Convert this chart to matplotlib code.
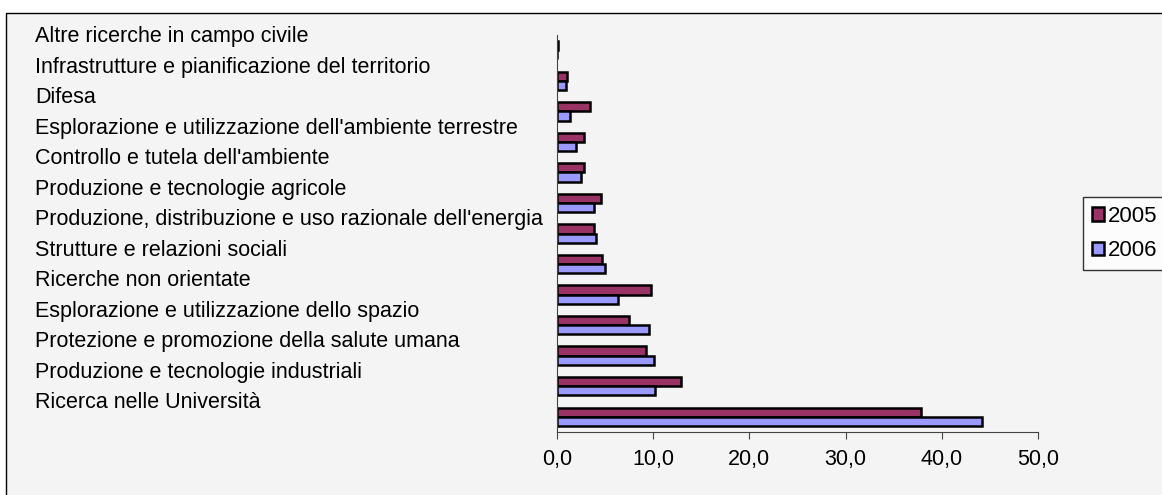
import matplotlib.pyplot as plt
import matplotlib.transforms as mtransforms
from matplotlib.patches import Rectangle
import numpy as np

plt.rcParams['font.family'] = ['Liberation Sans', 'DejaVu Sans']

# Categories, bottom to top
categories = [
    "Ricerca nelle Università",
    "Produzione e tecnologie industriali",
    "Protezione e promozione della salute umana",
    "Esplorazione e utilizzazione dello spazio",
    "Ricerche non orientate",
    "Strutture e relazioni sociali",
    "Produzione, distribuzione e uso razionale dell'energia",
    "Produzione e tecnologie agricole",
    "Controllo e tutela dell'ambiente",
    "Esplorazione e utilizzazione dell'ambiente terrestre",
    "Difesa",
    "Infrastrutture e pianificazione del territorio",
    "Altre ricerche in campo civile",
]
values_2005 = [37.8, 12.9, 9.3, 7.5, 9.8, 4.7, 3.8, 4.6, 2.8, 2.8, 3.4, 1.0, 0.1]
values_2006 = [44.2, 10.2, 10.1, 9.6, 6.3, 5.0, 4.1, 3.8, 2.5, 2.0, 1.4, 0.9, 0.0]
xticks = [0, 10, 20, 30, 40, 50]

W, H = 1162, 495
fig = plt.figure(figsize=(W / 100, H / 100), dpi=100)
fig.patch.set_facecolor('white')

# chart area background and border (Excel-like frame)
frame = Rectangle((6 / W, -0.1), 1.2, (H - 13) / H + 0.1, transform=fig.transFigure,
                  facecolor='#f4f4f4', edgecolor='black', linewidth=1.0, zorder=-10)
fig.add_artist(frame)

ax = fig.add_axes([557 / W, 63 / H, (1038 - 557) / W, (432 - 35) / H])
ax.set_facecolor('none')

y = np.arange(len(categories))
h = 0.3
ax.barh(y + h / 2, values_2005, height=h, color='#993366', edgecolor='black',
        linewidth=1.8, label='2005')
ax.barh(y - h / 2, values_2006, height=h, color='#9999FF', edgecolor='black',
        linewidth=1.8, label='2006')

ax.set_xlim(0, 50)
ax.set_ylim(-0.5, len(categories) - 0.5)
ax.set_xticks(xticks)
ax.set_xticklabels([f"{v:.1f}".replace('.', ',') for v in xticks], fontsize=15.5)
ax.set_yticks([])
for s in ['top', 'right']:
    ax.spines[s].set_visible(False)
ax.spines['left'].set_color('#444444')
ax.spines['bottom'].set_color('#444444')
ax.tick_params(axis='x', direction='out', length=5, color='#444444', pad=7)

# category labels, left aligned, slightly above each bar pair
trans = mtransforms.blended_transform_factory(fig.transFigure, ax.transData)
for yi, lab in zip(y, categories):
    ax.text(35 / W, yi + 0.45, lab, transform=trans, fontsize=15.5,
            va='center', ha='left', clip_on=False)

leg = fig.legend(loc='upper left', bbox_to_anchor=(1083 / W, (H - 197) / H),
                 fontsize=16, frameon=True, fancybox=False, edgecolor='black',
                 handlelength=0.55, handleheight=0.55, handletextpad=0.15,
                 borderpad=0.4, labelspacing=0.6, borderaxespad=0)
leg.get_frame().set_facecolor('white')
leg.get_frame().set_linewidth(1.0)

fig.savefig('out.png', dpi=100)
